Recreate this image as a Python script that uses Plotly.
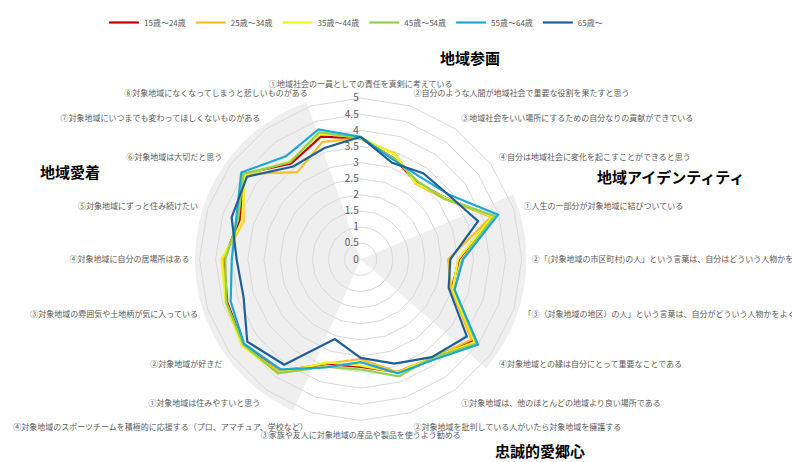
import plotly.graph_objects as go

# question items, clockwise from the top
items = [
    "①地域社会の一員としての責任を真剣に考えている",
    "②自分のような人間が地域社会で重要な役割を果たすと思う",
    "③地域社会をいい場所にするための自分なりの貢献ができている",
    "④自分は地域社会に変化を起こすことができると思う",
    "①人生の一部分が対象地域に結びついている",
    "②「(対象地域の市区町村)の人」という言葉は、自分はどういう人物かをよく表している",
    "「③（対象地域の地区）の人」という言葉は、自分がどういう人物かをよく表している",
    "④対象地域との縁は自分にとって重要なことである",
    "①対象地域は、他のほとんどの地域より良い場所である",
    "②対象地域を批判している人がいたら対象地域を擁護する",
    "③家族や友人に対象地域の産品や製品を使うよう勧める",
    "④対象地域のスポーツチームを積極的に応援する（プロ、アマチュア、学校など）",
    "①対象地域は住みやすいと思う",
    "②対象地域が好きだ",
    "③対象地域の雰囲気や土地柄が気に入っている",
    "④対象地域に自分の居場所はある",
    "⑤対象地域にずっと住み続けたい",
    "⑥対象地域は大切だと思う",
    "⑦対象地域にいつまでも変わってほしくないものがある",
    "⑧対象地域になくなってしまうと悲しいものがある",
]

age_groups = ["15歳～24歳", "25歳～34歳", "35歳～44歳", "45歳～54歳", "55歳～64歳", "65歳～"]

age_15_24 = [3.75, 3.30, 2.95, 3.25, 4.28, 3.05, 2.97, 4.30, 3.80, 3.68,
             3.34, 3.41, 4.30, 4.50, 4.35, 4.25, 3.95, 4.50, 3.67, 4.00]
age_25_34 = [3.75, 3.45, 2.90, 3.20, 4.26, 2.71, 2.95, 4.24, 3.78, 3.68,
             3.10, 3.40, 4.30, 4.55, 4.38, 4.28, 3.82, 4.50, 3.34, 3.83]
age_35_44 = [3.78, 3.42, 2.92, 3.25, 4.30, 3.02, 3.00, 4.36, 3.80, 3.70,
             3.30, 3.36, 4.37, 4.55, 4.40, 4.32, 3.85, 4.45, 3.75, 4.09]
age_45_54 = [3.75, 3.30, 3.00, 3.20, 4.36, 3.15, 3.06, 4.45, 3.78, 3.82,
             3.42, 3.50, 4.37, 4.50, 4.38, 4.20, 4.00, 4.50, 3.72, 4.15]
age_55_64 = [3.80, 3.25, 3.15, 3.40, 4.48, 3.18, 3.06, 4.50, 3.85, 3.72,
             3.19, 3.53, 4.22, 4.47, 4.24, 4.00, 4.06, 4.58, 3.95, 4.24]
age_65_up = [3.80, 3.15, 3.30, 3.38, 3.83, 2.78, 2.87, 4.07, 3.75, 3.40,
             3.06, 2.60, 4.04, 4.35, 3.82, 3.85, 4.21, 4.36, 3.56, 3.63]

radial_ticks = [0, 0.5, 1, 1.5, 2, 2.5, 3, 3.5, 4, 4.5, 5]

# group titles and where they sit (px on the page)
group_titles = ["地域参画", "地域アイデンティティ", "忠誠的愛郷心", "地域愛着"]
title_pos = [(470, 58), (670, 176), (540, 450), (70, 171)]

series = [age_15_24, age_25_34, age_35_44, age_45_54, age_55_64, age_65_up]
colors = ["#C00000", "#F5C02A", "#F2F21E", "#92D050", "#1EA8CF", "#1F5F99"]

# light grey background wedges (degrees, clockwise from top)
shade_center = [99, 272.5]
shade_width = [64, 137]

# the page body keeps its default 8px margin, so the figure is drawn from (8, 8)
PAGE_OFF = 8
W, H = 800 - PAGE_OFF, 462 - PAGE_OFF
cx, cy, rad = 360.7 - PAGE_OFF, 259.3 - PAGE_OFF, 166
R_MAX = 5.15
dom_x = [(cx - rad) / W, (cx + rad) / W]
dom_y = [(H - cy - rad) / H, (H - cy + rad) / H]

fig = go.Figure()

fig.add_trace(go.Barpolar(
    r=[R_MAX] * len(shade_center), theta=shade_center, width=shade_width,
    marker=dict(color="#EFEFEF", line=dict(width=0)),
    showlegend=False, hoverinfo="skip", subplot="polar",
))

for name, vals, col in zip(age_groups, series, colors):
    fig.add_trace(go.Scatterpolar(
        r=vals + vals[:1], theta=items + items[:1], mode="lines", name=name,
        line=dict(color=col, width=2.2), subplot="polar2",
    ))

for text, (px, py) in zip(group_titles, title_pos):
    fig.add_annotation(
        x=(px - PAGE_OFF) / W, y=1 - (py - PAGE_OFF) / H, xref="paper", yref="paper",
        xanchor="center", yanchor="middle", text=f"<b>{text}</b>",
        showarrow=False, font=dict(size=15, color="#000000"),
    )

fig.update_layout(
    width=W, height=H,
    margin=dict(l=0, r=0, t=0, b=0),
    paper_bgcolor="white",
    font=dict(family="Noto Sans CJK JP", color="#595959"),
    polar=dict(
        domain=dict(x=dom_x, y=dom_y),
        bgcolor="white",
        radialaxis=dict(range=[0, R_MAX], visible=False),
        angularaxis=dict(rotation=90, direction="clockwise", visible=False),
    ),
    polar2=dict(
        domain=dict(x=dom_x, y=dom_y),
        bgcolor="rgba(0,0,0,0)",
        gridshape="linear",
        radialaxis=dict(
            range=[0, R_MAX], angle=90, tickangle=90, side="counterclockwise",
            tickmode="array", tickvals=radial_ticks,
            ticktext=[f"{v:g}" for v in radial_ticks],
            showline=False, ticks="", gridcolor="#D9D9D9",
            tickfont=dict(size=10, color="#595959"),
        ),
        angularaxis=dict(
            rotation=90, direction="clockwise", showline=False, showgrid=False,
            ticks="outside", ticklen=3, tickcolor="rgba(0,0,0,0)",
            tickfont=dict(size=8, color="#595959"),
        ),
    ),
    legend=dict(
        orientation="h", x=(356 - PAGE_OFF) / W, xanchor="center",
        y=1.0, yanchor="top",
        font=dict(size=8, color="#595959"), itemwidth=30,
    ),
)

fig.write_html("out.html")
